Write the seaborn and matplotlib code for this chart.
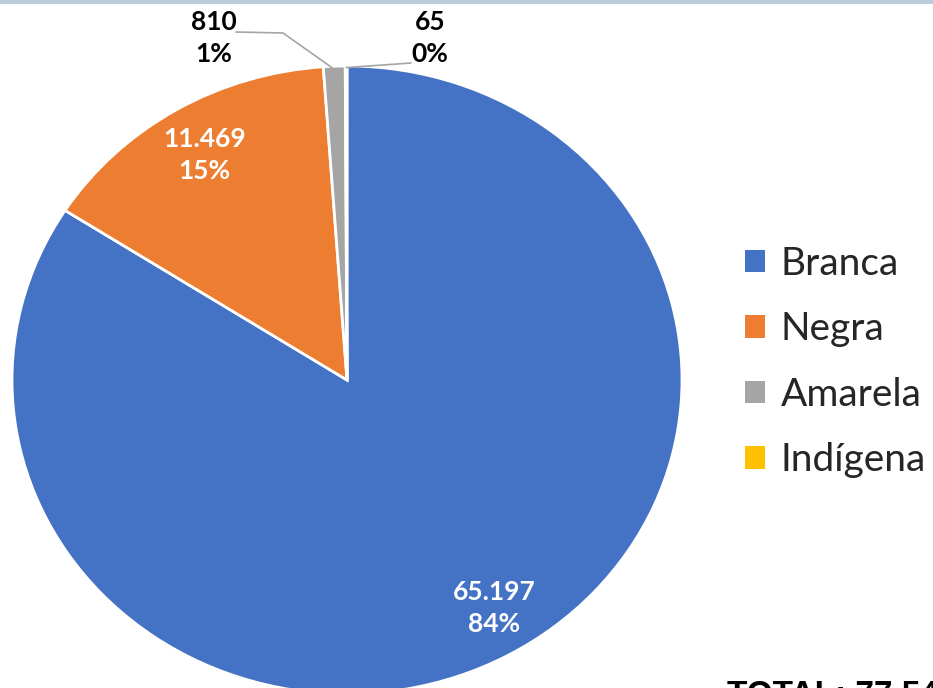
import numpy as np
import matplotlib
matplotlib.use("Agg")
import matplotlib.pyplot as plt
from matplotlib.patches import Patch, Rectangle
import seaborn as sns

sns.set_theme(style="white")
plt.rcParams['font.family'] = ['Lato', 'DejaVu Sans']

# ---- data ----
categories = ['Branca', 'Negra', 'Amarela', 'Indígena']
values = [65197, 11469, 810, 65]
colors = ['#4472C4', '#ED7D31', '#A5A5A5', '#FFC000']

def fmt(v):
    return f"{v:,}".replace(',', '.')

total = sum(values)
pcts = [f"{round(100 * v / total):.0f}%" for v in values]

W, H = 933, 688
fig = plt.figure(figsize=(W / 100, H / 100), dpi=100)
fig.patch.set_facecolor('white')

# top band
fig.patches.append(Rectangle((0, 1 - 4 / H), 1, 4 / H, transform=fig.transFigure,
                             facecolor='#BACCD9', edgecolor='none'))

# pie axes (slightly elliptical like the reference)
cx, cy, rx, ry = 347, 380, 335, 314
ax = fig.add_axes([(cx - rx) / W, (H - (cy + ry)) / H, 2 * rx / W, 2 * ry / H])
wedges, _ = ax.pie(values, colors=colors, startangle=90, counterclock=False,
                   radius=1.0, wedgeprops=dict(edgecolor='white', linewidth=2))
ax.set_aspect('auto')
ax.set_xlim(-1, 1)
ax.set_ylim(-1, 1)
ax.axis('off')

lab_kw = dict(ha='center', va='center', fontsize=19, fontweight='bold', linespacing=1.4)

# inside labels
inside_r = {0: 0.85, 1: 0.835}
inside_shift = {0: 2.5, 1: 0.0}
for i in (0, 1):
    w = wedges[i]
    mid = np.deg2rad((w.theta1 + w.theta2) / 2 + inside_shift[i])
    r = inside_r[i]
    ax.text(r * np.cos(mid), r * np.sin(mid), f"{fmt(values[i])}\n{pcts[i]}",
            color='white', **lab_kw)

# outside labels with leader lines
def to_data(px, py):
    return (px - cx) / rx, -(py - cy) / ry

# Amarela
w = wedges[2]
mid = np.deg2rad((w.theta1 + w.theta2) / 2)
ex, ey = 0.99 * np.cos(mid), 0.99 * np.sin(mid)
tx, ty = to_data(214, 38)
ax.text(tx, ty, f"{fmt(values[2])}\n{pcts[2]}", color='black', clip_on=False, **lab_kw)
p1 = to_data(236, 32)
p2 = to_data(283, 33)
ax.plot([p1[0], p2[0], ex], [p1[1], p2[1], ey], color='#A5A5A5', lw=1.2, clip_on=False)

# Indígena
w = wedges[3]
mid = np.deg2rad((w.theta1 + w.theta2) / 2)
ex, ey = 0.995 * np.cos(mid), 0.995 * np.sin(mid)
tx, ty = to_data(430, 38)
ax.text(tx, ty, f"{fmt(values[3])}\n{pcts[3]}", color='black', clip_on=False, **lab_kw)
q = to_data(411, 63)
ax.plot([ex, q[0]], [ey, q[1]], color='#A5A5A5', lw=1.2, clip_on=False)

# legend
handles = [Patch(facecolor=c, edgecolor='none') for c in colors]
leg = fig.legend(handles, categories, loc='center left',
                 bbox_to_anchor=(745 / W, 1 - 362 / H), frameon=False,
                 fontsize=28, handlelength=0.52, handleheight=0.52,
                 handletextpad=0.4, labelspacing=0.76, borderaxespad=0,
                 borderpad=0)

# total
fig.text(727 / W, 1 - 680 / H, f"TOTAL: {fmt(total)}", ha='left', va='top',
         fontsize=24, fontweight='bold', family=['Liberation Sans', 'DejaVu Sans'],
         color='black')

fig.savefig('out.png', dpi=100)
